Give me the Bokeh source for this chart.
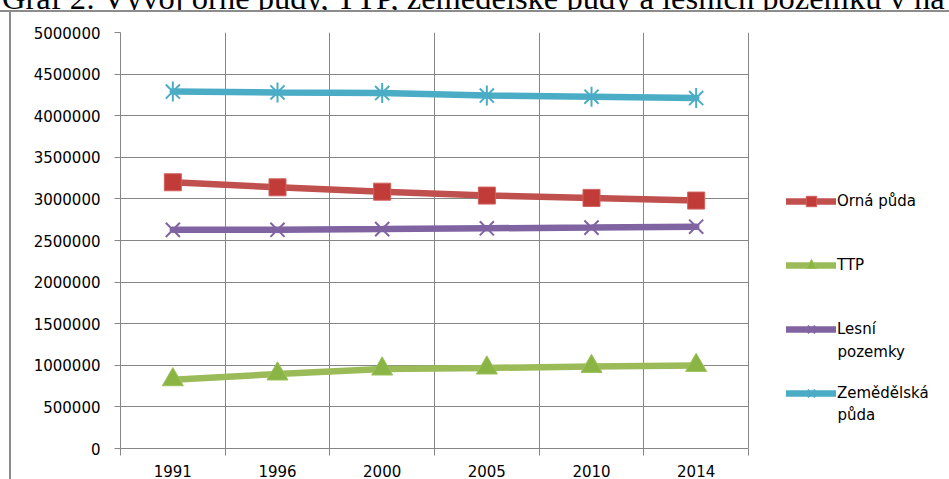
from bokeh.plotting import figure
from bokeh.layouts import column, row
from bokeh.models import (Range1d, FixedTicker, SingleIntervalTicker, BasicTickFormatter,
                          Legend, LegendItem, Label, Div)
from bokeh.embed import file_html
from bokeh.resources import INLINE
import math

# ---- data ----
years = ["1991", "1996", "2000", "2005", "2010", "2014"]
orna_puda = [3200000, 3139000, 3087000, 3040000, 3012000, 2980000]
ttp = [827000, 896000, 956000, 968000, 987000, 999000]
lesni_pozemky = [2628000, 2629000, 2637000, 2647000, 2655000, 2666000]
zemedelska_puda = [4290000, 4279000, 4272000, 4242000, 4228000, 4212000]
legend_first_lines = ["Orná půda", "TTP", "Lesní", "Zemědělská"]
legend_second_lines = ["", "", "pozemky", "půda"]
title_text = "Graf 2: Vývoj orné půdy, TTP, zemědělské půdy a lesních pozemků v na"

x = [i + 0.5 for i in range(len(years))]

GRID = "#868686"
FRAME = "#8c8c8c"
FONT = "DejaVu Sans"

FIG_W, FIG_H = 938, 467
LEFT, TOP, BOTTOM = 109, 20, 30
PLOT_W = 628                      # width of the category area inside the frame
FRAME_W = FIG_W - LEFT            # frame extends to the right edge (room for legend)
x_end = len(years) * FRAME_W / PLOT_W

p = figure(width=FIG_W, height=FIG_H, output_backend="svg", toolbar_location=None,
           x_range=Range1d(0, x_end), y_range=Range1d(0, 5000000),
           min_border_left=LEFT, min_border_right=0, min_border_top=TOP,
           min_border_bottom=BOTTOM)
p.outline_line_color = None
p.background_fill_color = "white"
p.border_fill_color = "white"

# x axis: labels at category centres, ticks and grid at category boundaries
xax = p.xaxis[0]
xax.bounds = (0, len(years))
xax.ticker = FixedTicker(ticks=x, minor_ticks=list(range(len(years) + 1)))
xax.major_label_overrides = {xi: y for xi, y in zip(x, years)}
xax.major_tick_line_color = None
xax.major_tick_out = 0
xax.major_tick_in = 0
xax.minor_tick_out = 7
xax.minor_tick_in = 0
xax.minor_tick_line_color = GRID
xax.axis_line_color = GRID
xax.major_label_text_font = FONT
xax.major_label_text_font_size = "15px"
xax.major_label_text_color = "#000000"
xax.major_label_standoff = 9
p.xgrid.grid_line_color = None
p.xgrid.minor_grid_line_color = GRID
p.xgrid.minor_grid_line_width = 1

yax = p.yaxis[0]
yax.ticker = SingleIntervalTicker(interval=500000, num_minor_ticks=0)
yax.formatter = BasicTickFormatter(use_scientific=False)
yax.major_tick_out = 6
yax.major_tick_in = 0
yax.major_tick_line_color = GRID
yax.minor_tick_line_color = None
yax.axis_line_color = GRID
yax.major_label_text_font = FONT
yax.major_label_text_font_size = "15px"
yax.major_label_text_color = "#000000"
yax.major_label_standoff = 14
p.ygrid.grid_line_color = GRID
p.ygrid.grid_line_width = 1
p.ygrid.cross_bounds = (0, len(years))

LW = 6.5
# Orná půda
l1 = p.line(x, orna_puda, line_color="#C0504D", line_width=LW, line_cap="round")
m1 = p.scatter(x, orna_puda, marker="square", size=17, fill_color="#C13B38",
               line_color="#D0605C", line_width=1)
# TTP
l2 = p.line(x, ttp, line_color="#9BBB59", line_width=LW, line_cap="round")
m2 = p.scatter(x, ttp, marker="triangle", size=21, fill_color="#8AB443",
               line_color="#9BC35A", line_width=1)
# Lesní pozemky
l3 = p.line(x, lesni_pozemky, line_color="#8064A2", line_width=LW, line_cap="round")
m3 = p.scatter(x, lesni_pozemky, marker="x", size=20, line_color="#8064A2", line_width=2)
# Zemědělská půda
l4 = p.line(x, zemedelska_puda, line_color="#4BACC6", line_width=LW, line_cap="round")
m4a = p.scatter(x, zemedelska_puda, marker="x", size=20, line_color="#4BACC6", line_width=2)
m4b = p.scatter(x, zemedelska_puda, marker="dash", size=20, angle=math.pi / 2,
                line_color="#4BACC6", line_width=2)

renderer_groups = [[l1, m1], [l2, m2], [l3, m3], [l4, m4a, m4b]]
legend = Legend(items=[LegendItem(label=lab, renderers=rs)
                       for lab, rs in zip(legend_first_lines, renderer_groups)],
                location=(666, 42), orientation="vertical", glyph_width=50, glyph_height=26,
                label_height=26, spacing=38, padding=0, margin=0, label_standoff=1,
                label_text_font=FONT, label_text_font_size="15px",
                label_text_color="#000000",
                border_line_color=None, background_fill_alpha=0)
p.add_layout(legend)

# second lines of the two-line legend labels
for txt, yy in zip(legend_second_lines, (0, 0, 97, 34)):
    if txt:
        p.add_layout(Label(x=717, y=yy, x_units="screen", y_units="screen", text=txt,
                           text_font=FONT, text_font_size="15px", text_color="#000000",
                           text_baseline="middle", text_align="left"))

# title (cropped at the top like the reference) + outer chart frame lines
title_div = Div(
    text=('<div style="position:relative; top:-18px; left:2px; white-space:nowrap; '
          'font-family:\'Liberation Serif\'; font-size:32.5px; line-height:32px; color:#000;">'
          + title_text + '</div>'),
    width=949, height=12,
    styles={"overflow": "hidden", "box-sizing": "border-box",
            "border-bottom": "2px solid " + FRAME, "margin": "0", "padding": "0"})
left_div = Div(text="", width=11, height=FIG_H,
               styles={"box-sizing": "border-box", "border-right": "2px solid " + FRAME,
                       "margin": "0", "padding": "0"})

layout = column(title_div, row(left_div, p, spacing=0), spacing=0)

open("out.html", "w").write(file_html(layout, INLINE))
